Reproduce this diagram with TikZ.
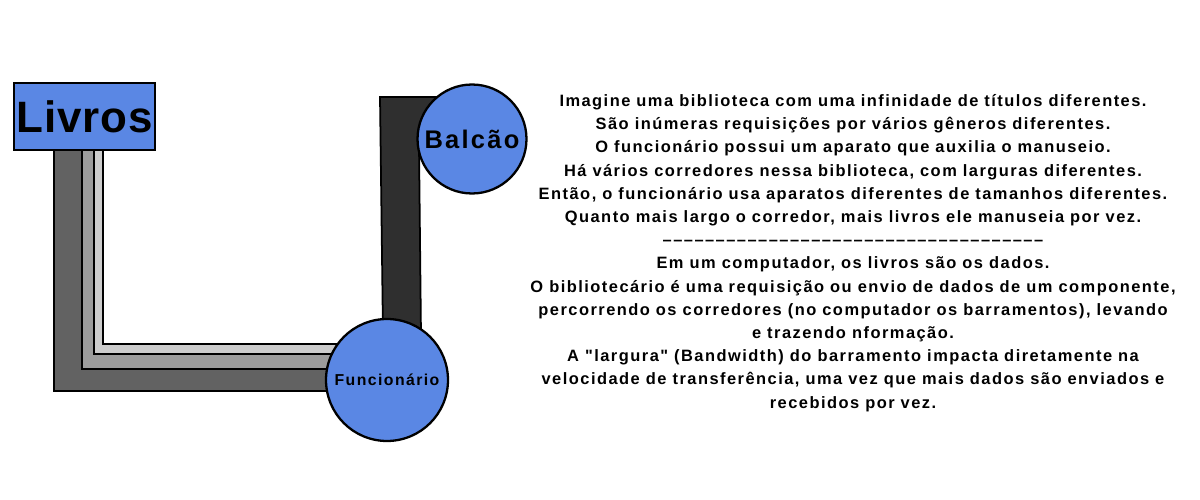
\documentclass[tikz,border=0pt]{standalone}
\usepackage{fontspec}
\setmainfont{Liberation Sans}
\newfontfamily\letreiro[LetterSpace=2]{Liberation Sans}
\newfontfamily\legenda[LetterSpace=9]{Liberation Sans}
\definecolor{azul}{RGB}{90,135,228}
\definecolor{cinzaA}{RGB}{98,98,98}
\definecolor{cinzaB}{RGB}{156,156,156}
\definecolor{cinzaC}{RGB}{204,204,204}
\definecolor{cinzaD}{RGB}{47,47,47}
\begin{document}
\begin{tikzpicture}[x=0.02cm, y=-0.02cm,
  faixa/.style={draw=black, line width=1pt},
  disco/.style={draw, circle, fill=azul, line width=1.3pt, inner sep=0pt, text depth=0pt}]
\useasboundingbox (0,0) rectangle (1200,500);
% corredores
\draw[faixa, fill=cinzaA] (54,150) -- (54,391) -- (360,391) -- (360,369) -- (82,369) -- (82,150) -- cycle;
\draw[faixa, fill=cinzaB] (82,150) -- (82,369) -- (360,369) -- (360,354) -- (94,354) -- (94,150) -- cycle;
\draw[faixa, fill=cinzaC, line width=1.4pt] (94,150) -- (94,354) -- (360,354) -- (360,344) -- (103,344) -- (103,150) -- cycle;
\draw[faixa, fill=cinzaD] (380,97) -- (450,97) -- (450,140) -- (419,145) -- (421,335) -- (383,335) -- cycle;
% pontas
\node[draw, fill=azul, line width=1.3pt, minimum width=2.82cm, minimum height=1.34cm, inner sep=0pt,
  font=\letreiro\bfseries\fontsize{25}{25}\selectfont] (livros) at (84.5,116.5) {Livros};
\node[disco, minimum size=2.18cm, text height=10.4pt,
  font=\legenda\bfseries\fontsize{14.5}{15}\selectfont] (balcao) at (472,139) {Balcão};
\node[disco, minimum size=2.44cm, text height=6.4pt,
  font=\legenda\bfseries\fontsize{9}{10}\selectfont] (func) at (387,380) {Funcionário};
% texto
\node[align=center, inner sep=0pt, font=\legenda\bfseries\fontsize{9.35}{13.2}\selectfont] (texto) at (853,253)
  {Imagine uma biblioteca com uma infinidade de títulos diferentes.\\
   São inúmeras requisições por vários gêneros diferentes.\\
   O funcionário possui um aparato que auxilia o manuseio.\\
   Há vários corredores nessa biblioteca, com larguras diferentes.\\
   Então, o funcionário usa aparatos diferentes de tamanhos diferentes.\\
   Quanto mais largo o corredor, mais livros ele manuseia por vez.\\
   ––––––––––––––––––––––––––––––––––––\\
   Em um computador, os livros são os dados.\\
   O bibliotecário é uma requisição ou envio de dados de um componente,\\
   percorrendo os corredores (no computador os barramentos), levando\\
   e trazendo nformação.\\
   A "largura" (Bandwidth) do barramento impacta diretamente na\\
   velocidade de transferência, uma vez que mais dados são enviados e\\
   recebidos por vez.};
\end{tikzpicture}
\end{document}
